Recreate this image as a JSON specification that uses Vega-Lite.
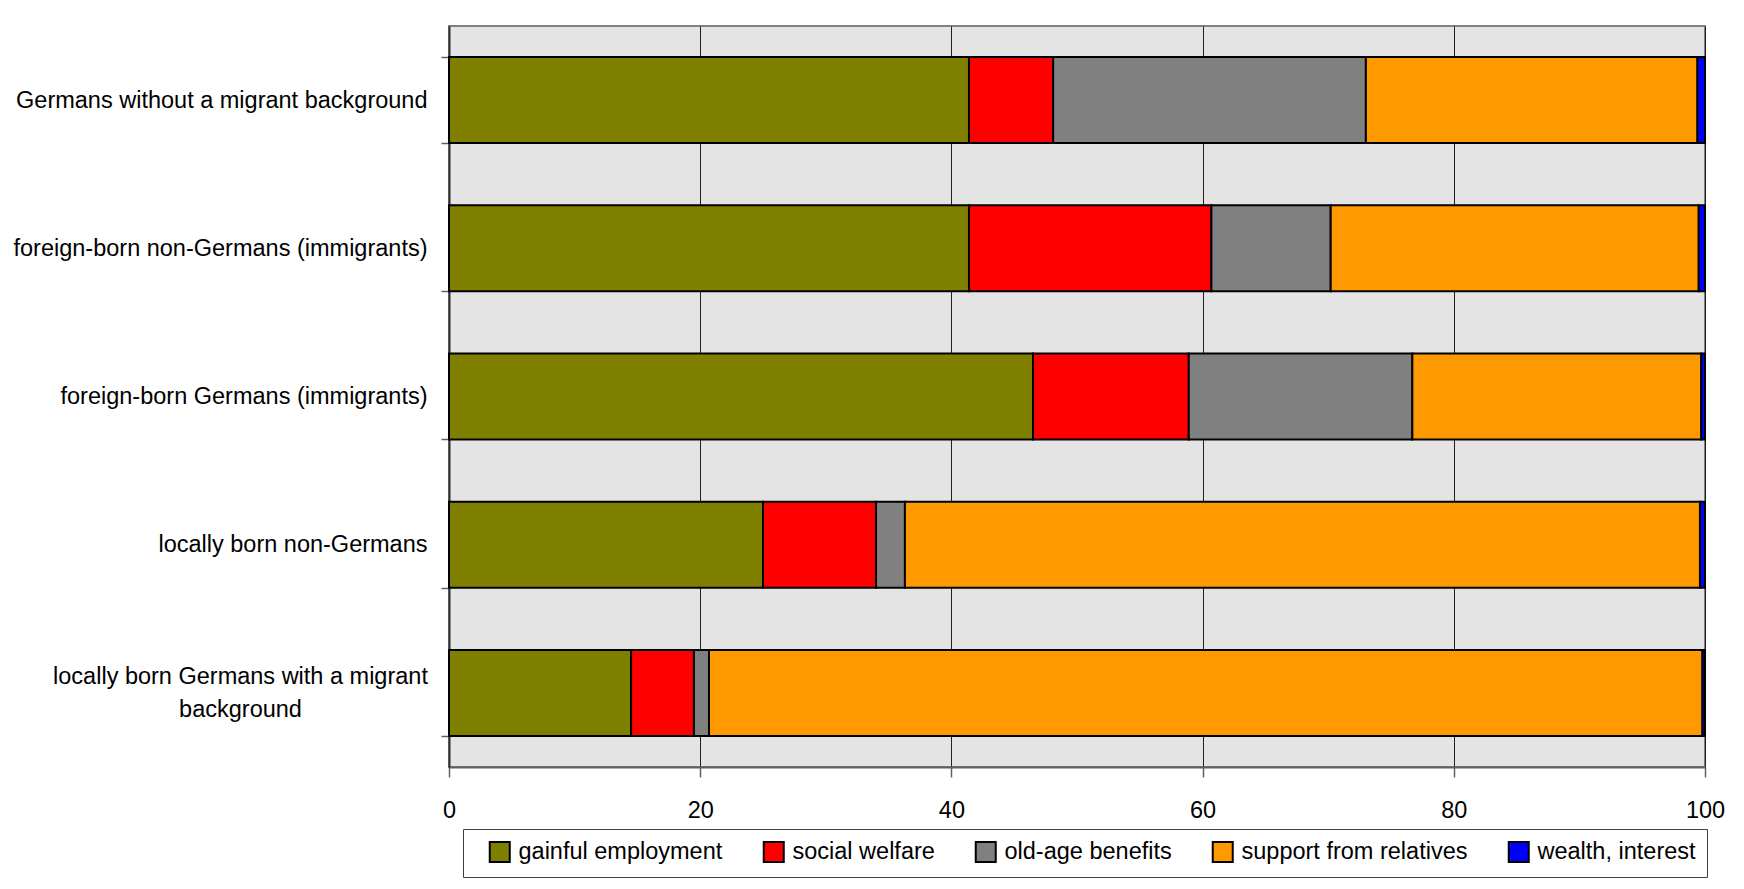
{
  "$schema": "https://vega.github.io/schema/vega-lite/v6.json",
  "autosize": {"type": "none"},
  "padding": {"left": 449, "top": 26, "right": 39, "bottom": 122},
  "width": 1256,
  "height": 741,
  "background": "#ffffff",
  "config": {
    "font": "'Liberation Sans', Arial, sans-serif",
    "view": {"fill": "#e4e4e4", "stroke": "#808080", "strokeWidth": 2}
  },
  "data": {
    "values": [
      {"group": "Germans without a migrant background", "source": "gainful employment", "idx": 1, "value": 41.4},
      {"group": "Germans without a migrant background", "source": "social welfare", "idx": 2, "value": 6.7},
      {"group": "Germans without a migrant background", "source": "old-age benefits", "idx": 3, "value": 24.9},
      {"group": "Germans without a migrant background", "source": "support from relatives", "idx": 4, "value": 26.4},
      {"group": "Germans without a migrant background", "source": "wealth, interest", "idx": 5, "value": 0.6},
      {"group": "foreign-born non-Germans (immigrants)", "source": "gainful employment", "idx": 1, "value": 41.4},
      {"group": "foreign-born non-Germans (immigrants)", "source": "social welfare", "idx": 2, "value": 19.3},
      {"group": "foreign-born non-Germans (immigrants)", "source": "old-age benefits", "idx": 3, "value": 9.5},
      {"group": "foreign-born non-Germans (immigrants)", "source": "support from relatives", "idx": 4, "value": 29.3},
      {"group": "foreign-born non-Germans (immigrants)", "source": "wealth, interest", "idx": 5, "value": 0.5},
      {"group": "foreign-born Germans (immigrants)", "source": "gainful employment", "idx": 1, "value": 46.5},
      {"group": "foreign-born Germans (immigrants)", "source": "social welfare", "idx": 2, "value": 12.4},
      {"group": "foreign-born Germans (immigrants)", "source": "old-age benefits", "idx": 3, "value": 17.8},
      {"group": "foreign-born Germans (immigrants)", "source": "support from relatives", "idx": 4, "value": 23.0},
      {"group": "foreign-born Germans (immigrants)", "source": "wealth, interest", "idx": 5, "value": 0.3},
      {"group": "locally born non-Germans", "source": "gainful employment", "idx": 1, "value": 25.0},
      {"group": "locally born non-Germans", "source": "social welfare", "idx": 2, "value": 9.0},
      {"group": "locally born non-Germans", "source": "old-age benefits", "idx": 3, "value": 2.3},
      {"group": "locally born non-Germans", "source": "support from relatives", "idx": 4, "value": 63.3},
      {"group": "locally born non-Germans", "source": "wealth, interest", "idx": 5, "value": 0.4},
      {"group": "locally born Germans with a migrant background", "source": "gainful employment", "idx": 1, "value": 14.5},
      {"group": "locally born Germans with a migrant background", "source": "social welfare", "idx": 2, "value": 5.0},
      {"group": "locally born Germans with a migrant background", "source": "old-age benefits", "idx": 3, "value": 1.2},
      {"group": "locally born Germans with a migrant background", "source": "support from relatives", "idx": 4, "value": 79.1},
      {"group": "locally born Germans with a migrant background", "source": "wealth, interest", "idx": 5, "value": 0.2}
    ]
  },
  "mark": {"type": "bar", "stroke": "#000000", "strokeWidth": 2},
  "encoding": {
    "y": {
      "field": "group",
      "type": "nominal",
      "sort": null,
      "scale": {"paddingInner": 0.42, "paddingOuter": 0.21},
      "axis": {
        "title": null,
        "tickBand": "extent",
        "tickSize": 8,
        "tickColor": "#606060",
        "tickWidth": 1.5,
        "domainColor": "#303030",
        "domainWidth": 2,
        "labelFontSize": 23.5,
        "labelColor": "#000000",
        "labelLimit": 0,
        "labelLineHeight": 33,
        "labelPadding": {"condition": {"test": "datum.value == 'locally born Germans with a migrant background'", "value": 201}, "value": 14},
        "labelAlign": {"condition": {"test": "datum.value == 'locally born Germans with a migrant background'", "value": "center"}, "value": "right"},
        "labelOffset": {"condition": {"test": "datum.value == 'locally born Germans with a migrant background'", "value": -16}, "value": 0},
        "labelExpr": "datum.label == 'locally born Germans with a migrant background' ? ['locally born Germans with a migrant', 'background'] : datum.label"
      }
    },
    "x": {
      "field": "value",
      "type": "quantitative",
      "stack": "zero",
      "scale": {"domain": [0, 100], "nice": false},
      "axis": {
        "title": null,
        "values": [0, 20, 40, 60, 80, 100],
        "grid": true,
        "gridColor": "#202020",
        "gridWidth": 1,
        "tickSize": 10,
        "tickColor": "#606060",
        "tickWidth": 1.5,
        "domainColor": "#606060",
        "domainWidth": 2,
        "labelFontSize": 23.5,
        "labelColor": "#000000",
        "labelPadding": 21,
        "labelFlush": false
      }
    },
    "color": {
      "field": "source",
      "type": "nominal",
      "sort": ["gainful employment", "social welfare", "old-age benefits", "support from relatives", "wealth, interest"],
      "scale": {
        "domain": ["gainful employment", "social welfare", "old-age benefits", "support from relatives", "wealth, interest"],
        "range": ["#808000", "#ff0000", "#808080", "#ff9900", "#0000ff"]
      },
      "legend": {
        "title": null,
        "orient": "none",
        "legendX": 14,
        "legendY": 803,
        "direction": "horizontal",
        "symbolType": "square",
        "symbolSize": 400,
        "symbolStrokeColor": "#000000",
        "symbolStrokeWidth": 2,
        "symbolOffset": 14,
        "labelFontSize": 23.5,
        "labelColor": "#000000",
        "labelLimit": 0,
        "labelOffset": 7,
        "columnPadding": 25,
        "padding": 11,
        "strokeColor": "#404040",
        "fillColor": "#ffffff"
      }
    },
    "order": {"field": "idx", "type": "quantitative"}
  }
}
